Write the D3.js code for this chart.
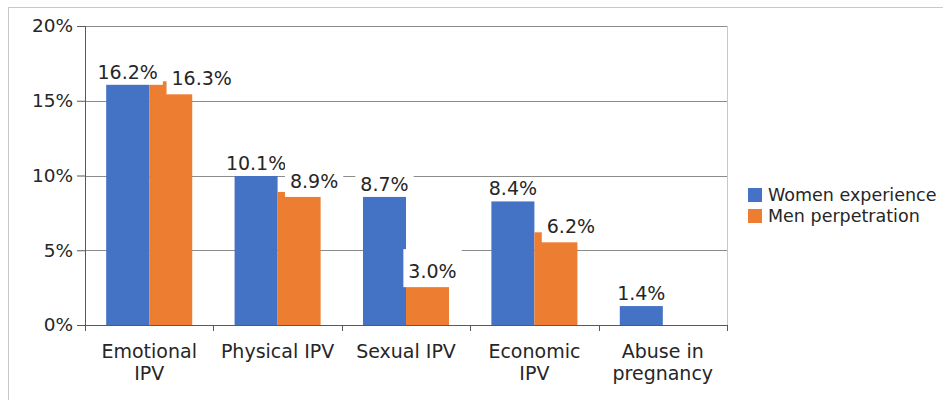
<!DOCTYPE html>
<html>
<head>
<meta charset="utf-8">
<script src="https://cdn.jsdelivr.net/npm/d3@7/dist/d3.min.js"></script>
<style>
  html, body { margin: 0; padding: 0; background: #fff; }
  svg text { font-family: "DejaVu Sans", sans-serif; fill: #262626; }
</style>
</head>
<body>
<svg id="chart" width="944" height="400"></svg>
<script>
var categories = [['Emotional', 'IPV'], ['Physical IPV'], ['Sexual IPV'], ['Economic', 'IPV'], ['Abuse in', 'pregnancy']];
var seriesNames = ['Women experience', 'Men perpetration'];
var womenExperience = [16.2, 10.1, 8.7, 8.4, 1.4];
var menPerpetration = [16.3, 8.9, 3.0, 6.2, null];
var yTicks = [0, 5, 10, 15, 20];

var colors = ['#4472c4', '#ed7d31'];
// label nudges for the men's labels (moved by hand in the original)
var menNudge = [[31, 4], [15, -4], [5, -2], [15, 1]];

var svg = d3.select('#chart'),
    margin = { left: 85, right: 217, top: 26, bottom: 75 },
    width = 944 - margin.left - margin.right,
    height = 400 - margin.top - margin.bottom;

// outer frame (top + left only visible)
svg.append('line').attr('x1', 8).attr('x2', 943).attr('y1', 7.5).attr('y2', 7.5)
    .attr('stroke', '#c8c8c8');
svg.append('line').attr('x1', 8.5).attr('x2', 8.5).attr('y1', 7).attr('y2', 400)
    .attr('stroke', '#c8c8c8');

var g = svg.append('g').attr('transform', 'translate(' + margin.left + ',' + margin.top + ')');

var x0 = d3.scaleBand().domain(d3.range(categories.length)).range([0, width]).paddingInner(0.33).paddingOuter(0.165);
var band = d3.scaleBand().domain(d3.range(categories.length)).range([0, width]);
var x1 = d3.scaleBand().domain([0, 1]).range([0, x0.bandwidth()]);
var y = d3.scaleLinear().domain([0, 20]).range([height, 0]);

// gridlines
g.selectAll('.grid').data(yTicks.slice(1)).enter().append('line')
    .attr('x1', 0).attr('x2', width)
    .attr('y1', function(d){ return Math.round(y(d)) + 0.5; })
    .attr('y2', function(d){ return Math.round(y(d)) + 0.5; })
    .attr('stroke', '#8c8c8c');
// right plot edge
g.append('line').attr('x1', width + 0.5).attr('x2', width + 0.5).attr('y1', 0).attr('y2', height)
    .attr('stroke', '#c8c8c8');

// bars
var seriesData = [womenExperience, menPerpetration];
seriesData.forEach(function(vals, s){
    g.selectAll('.bar' + s).data(vals).enter()
        .filter(function(d){ return d !== null; })
        .append('rect')
        .attr('x', function(d, i){ return x0(i) + x1(s); })
        .attr('y', function(d){ return y(d); })
        .attr('width', x1.bandwidth())
        .attr('height', function(d){ return height - y(d); })
        .attr('fill', colors[s]);
});

// axes
var yAxis = d3.axisLeft(y).tickValues(yTicks).tickSize(8).tickFormat(function(d){ return d + '%'; });
var yg = g.append('g').call(yAxis);
yg.select('.domain').remove();
yg.append('line').attr('x1', 0.5).attr('x2', 0.5).attr('y1', 0).attr('y2', height).attr('stroke', '#595959');
yg.selectAll('.tick line').attr('stroke', '#595959');
yg.selectAll('.tick text').attr('font-size', 18.5).attr('x', -12).attr('fill', '#262626');

var xg = g.append('g').attr('transform', 'translate(0,' + height + ')');
xg.append('line').attr('x1', 0).attr('x2', width).attr('y1', 0.5).attr('y2', 0.5).attr('stroke', '#595959');
xg.selectAll('.xt').data(d3.range(categories.length + 1)).enter().append('line')
    .attr('x1', function(i){ return Math.round(i * band.step()) + 0.5; })
    .attr('x2', function(i){ return Math.round(i * band.step()) + 0.5; })
    .attr('y1', 0).attr('y2', 6).attr('stroke', '#595959');
categories.forEach(function(lines, i){
    var t = xg.append('text').attr('text-anchor', 'middle').attr('font-size', 19)
        .attr('x', band(i) + band.bandwidth() / 2).attr('y', 33);
    lines.forEach(function(l, k){
        t.append('tspan').attr('x', band(i) + band.bandwidth() / 2).attr('dy', k === 0 ? 0 : 22).text(l);
    });
});

// data labels with white boxes
function addLabel(cx, baseline, txt, padTop, padBottom){
    var lg = g.append('g');
    var rect = lg.append('rect').attr('fill', '#fff');
    var t = lg.append('text').attr('text-anchor', 'middle').attr('font-size', 19)
        .attr('x', cx).attr('y', baseline).text(txt);
    var bb = t.node().getBBox();
    rect.attr('x', bb.x - 5).attr('width', bb.width + 10)
        .attr('y', baseline - padTop).attr('height', padTop + padBottom);
}
womenExperience.forEach(function(v, i){
    addLabel(x0(i) + x1(0) + x1.bandwidth() / 2, y(v) - 4, v.toFixed(1) + '%', 17, 6);
});
menPerpetration.forEach(function(v, i){
    if (v === null) return;
    addLabel(x0(i) + x1(1) + x1.bandwidth() / 2 + menNudge[i][0], y(v) + menNudge[i][1], v.toFixed(1) + '%', 29, 9);
});

// legend
var legend = svg.append('g').attr('transform', 'translate(748,188)');
seriesNames.forEach(function(n, i){
    legend.append('rect').attr('x', 0).attr('y', i * 21).attr('width', 14).attr('height', 14).attr('fill', colors[i]);
    legend.append('text').attr('x', 20).attr('y', i * 21 + 13).attr('font-size', 17.5).text(n);
});
</script>
</body>
</html>
